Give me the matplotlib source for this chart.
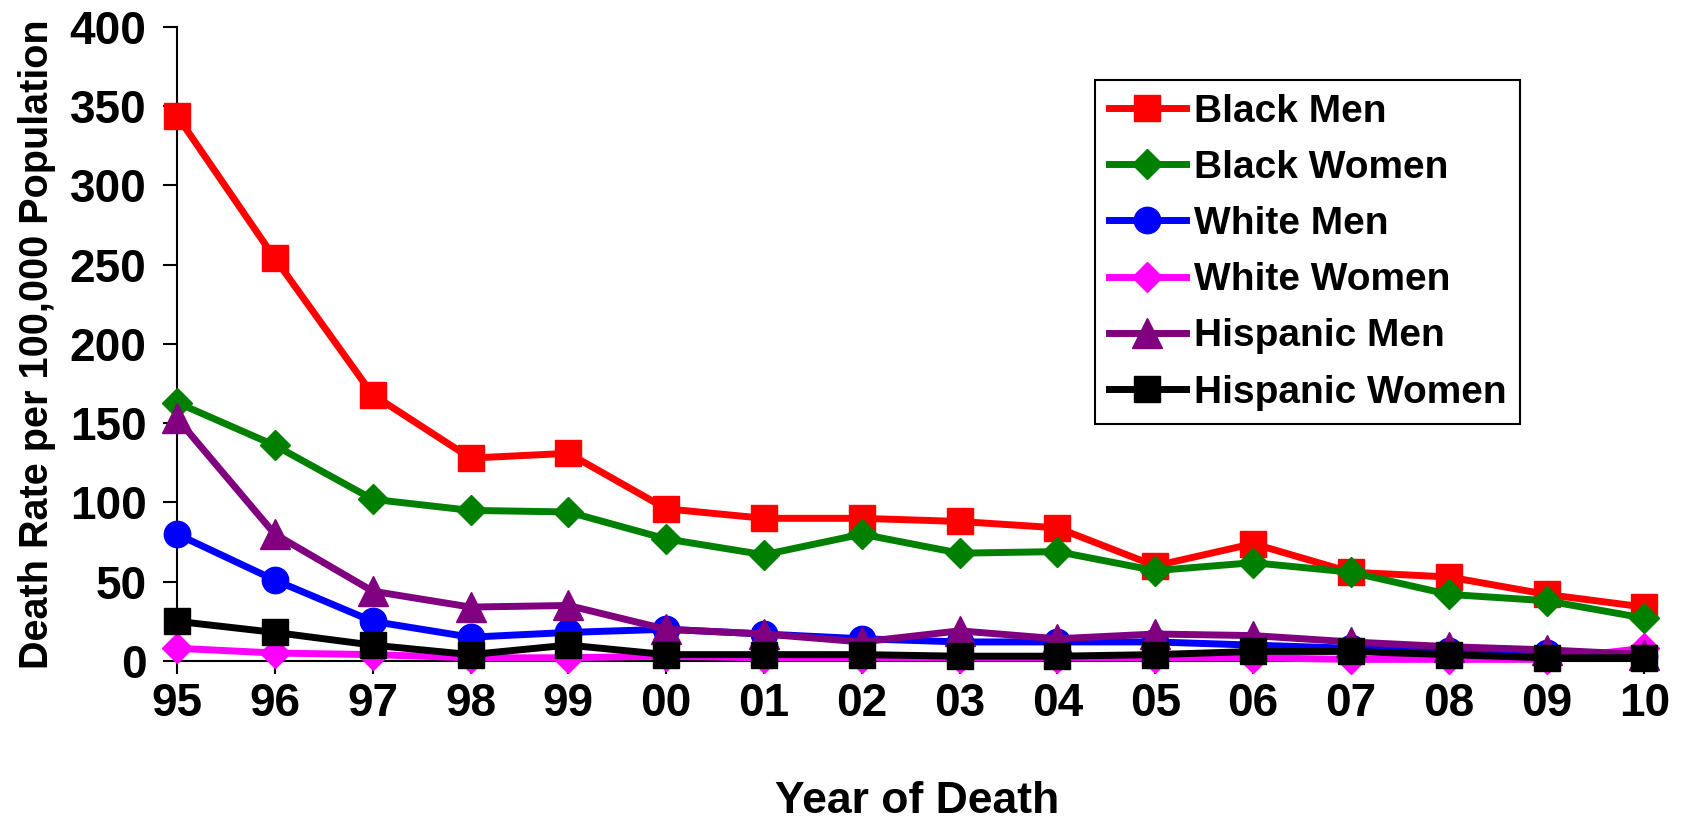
import matplotlib
matplotlib.use('Agg')
import matplotlib.pyplot as plt
import numpy as np

plt.rcParams['font.family'] = ['Liberation Sans', 'DejaVu Sans']
plt.rcParams['font.weight'] = 'bold'

# ---- data ----
years = ['95', '96', '97', '98', '99', '00', '01', '02', '03', '04', '05', '06', '07', '08', '09', '10']
black_men = [344, 254, 168, 128, 131, 96, 90, 90, 88, 84, 60, 74, 56, 53, 42, 34]
black_women = [163, 136, 102, 95, 94, 77, 67, 80, 68, 69, 57, 62, 56, 42, 38, 27]
white_men = [80, 51, 25, 15, 18, 20, 17, 14, 12, 12, 12, 10, 8, 6, 5, 3]
white_women = [8, 5, 4, 2, 2, 3, 2, 2, 2, 2, 2, 2, 1, 1, 1, 8]
hispanic_men = [153, 80, 44, 34, 35, 20, 17, 12, 19, 14, 17, 16, 12, 9, 7, 4]
hispanic_women = [25, 18, 10, 4, 10, 4, 4, 4, 3, 3, 4, 6, 6, 4, 2, 2]

series = [
    ('Black Men', black_men, '#FF0000', 's', 19),
    ('Black Women', black_women, '#008000', 'D', 15),
    ('White Men', white_men, '#0000FF', 'o', 19),
    ('White Women', white_women, '#FF00FF', 'D', 15),
    ('Hispanic Men', hispanic_men, '#800080', '^', 21),
    ('Hispanic Women', hispanic_women, '#000000', 's', 19),
]

fig = plt.figure(figsize=(16.83, 8.23), dpi=100)
ax = fig.add_axes([0.1052, 0.1969, 0.8794, 0.7703])

x = np.arange(len(years))
for label, vals, color, marker, ms in series:
    ax.plot(x, vals, color=color, marker=marker, markersize=ms, linewidth=5,
            label=label, clip_on=False)

ax.set_xlim(0, 15.13)
ax.set_ylim(0, 400)
ax.set_yticks(np.arange(0, 401, 50))
ax.set_xticks(x)
ax.set_xticklabels(years)

for side in ['top', 'right']:
    ax.spines[side].set_visible(False)
for side in ['left', 'bottom']:
    ax.spines[side].set_linewidth(1.5)
    ax.spines[side].set_zorder(0)

ax.tick_params(axis='y', direction='out', length=10, width=1.5, pad=12, labelsize=33)
ax.tick_params(axis='x', direction='out', length=9, width=1.5, pad=6, labelsize=33)

ax.set_xlabel('Year of Death', fontsize=32, fontweight='bold', labelpad=40)
ax.set_ylabel('Death Rate per 100,000 Population', fontsize=28.5, fontweight='bold', labelpad=10)

leg = ax.legend(loc='upper left', bbox_to_anchor=(0.6506, 0.9028), bbox_transform=fig.transFigure,
                borderaxespad=0, fontsize=28, handlelength=2.0, handletextpad=0.2,
                labelspacing=0.52, borderpad=0.35, fancybox=False, framealpha=1,
                edgecolor='black')
leg.get_frame().set_linewidth(1.5)
for t in leg.get_texts():
    t.set_fontweight('bold')

fig.savefig('out.png', dpi=100)
